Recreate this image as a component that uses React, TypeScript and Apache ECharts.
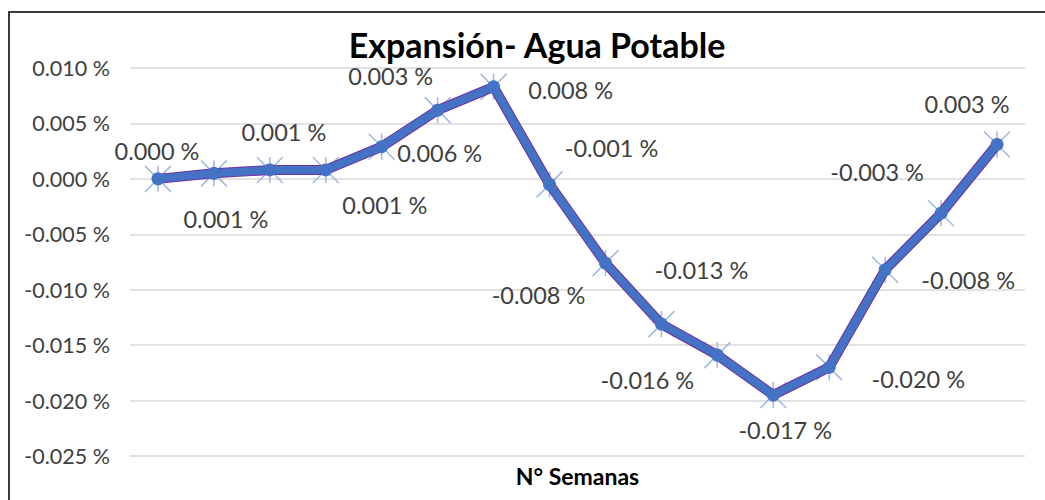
import React, { useEffect, useRef } from "react";
import * as echarts from "echarts";

const weeks = ["1", "2", "3", "4", "5", "6", "7", "8", "9", "10", "11", "12", "13", "14", "15", "16"];
const expansion = [0.0, 0.0005, 0.0008, 0.0008, 0.0029, 0.0062, 0.0083, -0.0005, -0.0076, -0.0131, -0.0159, -0.0195, -0.017, -0.0082, -0.0031, 0.0031];
const pointLabels = ["0.000 %", "0.001 %", "0.001 %", "0.001 %", "0.003 %", "0.006 %", "0.008 %", "-0.001 %", "-0.008 %", "-0.013 %", "-0.016 %", "-0.020 %", "-0.017 %", "-0.008 %", "-0.003 %", "0.003 %"];
const labelOffsets = [
  [-1, -28], [12, 46], [14, -38], [59, 35], [9, -71], [2, 43], [77, 3], [62, -36],
  [-67, 32], [40, -54], [-70, 25], [145, -16], [-44, 63], [83, 10], [-64, -41], [-30, -40],
];
const yMin = -0.025;
const yMax = 0.01;
const yStep = 0.005;

const FONT = "Lato";
const TEXT = "#404040";

export default function App() {
  const ref = useRef<HTMLDivElement>(null);
  useEffect(() => {
    document.body.style.margin = "0";
    document.body.style.overflow = "hidden";
    const chart = echarts.init(ref.current!, null, { renderer: "svg" });
    const labelled = expansion.map((v, i) => ({
      value: v,
      label: {
        show: true,
        formatter: pointLabels[i],
        position: "inside",
        offset: labelOffsets[i],
        fontFamily: FONT,
        fontSize: 23.5,
        color: TEXT,
      },
    }));
    chart.setOption({
      animation: false,
      backgroundColor: "#ffffff",
      title: {
        text: "Expansión- Agua Potable",
        left: 537,
        textAlign: "center",
        top: 27,
        padding: 0,
        textStyle: { fontFamily: FONT, fontWeight: "bold", fontSize: 34, color: "#000000" },
      },
      graphic: [
        {
          type: "polyline",
          shape: { points: [[9, 500], [9, 12], [1045, 12]] },
          style: { fill: "none", stroke: "#3a3a3a", lineWidth: 2 },
          silent: true,
          z: -1,
        },
      ],
      grid: { left: 130, right: 20, top: 68, bottom: 44 },
      xAxis: {
        type: "category",
        data: weeks,
        boundaryGap: true,
        name: "N° Semanas",
        nameLocation: "middle",
        nameGap: 8,
        nameTextStyle: { fontFamily: FONT, fontWeight: "bold", fontSize: 23, color: "#000000", verticalAlign: "top" },
        axisLine: { show: false },
        axisTick: { show: false },
        axisLabel: { show: false },
      },
      yAxis: {
        type: "value",
        min: yMin,
        max: yMax,
        interval: yStep,
        axisLine: { show: false },
        axisTick: { show: false },
        axisLabel: {
          margin: 20,
          fontFamily: FONT,
          fontSize: 21.5,
          color: TEXT,
          formatter: (v: number) => `${v.toFixed(3)} %`,
        },
        splitLine: { lineStyle: { color: "#d9d9d9", width: 1.5 } },
      },
      series: [
        {
          type: "scatter",
          data: expansion,
          symbol: "path://M0 0L20 20M20 0L0 20M10 0L10 20",
          symbolSize: 26,
          itemStyle: { color: "none", borderColor: "#8eaadb", borderWidth: 1.6 },
          z: 1,
        },
        {
          type: "line",
          data: expansion,
          showSymbol: false,
          lineStyle: { color: "#7030a0", width: 10 },
          z: 2,
        },
        {
          type: "line",
          data: labelled,
          symbol: "circle",
          symbolSize: 13,
          itemStyle: { color: "#4472c4" },
          lineStyle: { color: "#4472c4", width: 8 },
          z: 3,
        },
      ],
    });
    return () => chart.dispose();
  }, []);
  return <div ref={ref} style={{ width: 1045, height: 500 }} />;
}
